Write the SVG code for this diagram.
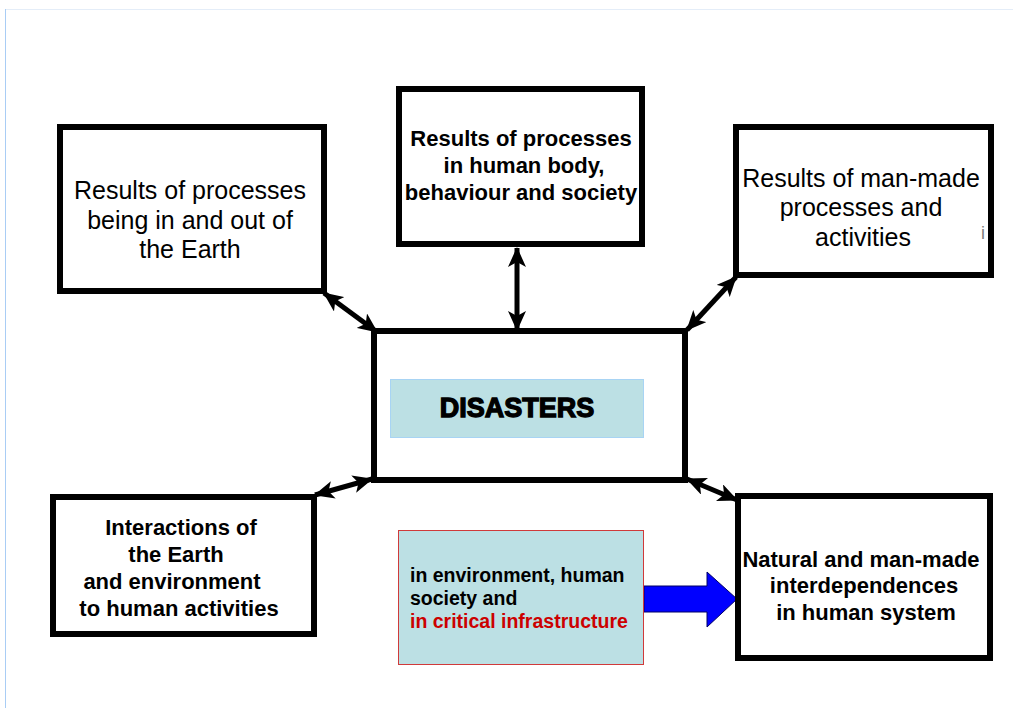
<svg xmlns="http://www.w3.org/2000/svg" width="1013" height="708" viewBox="0 0 1013 708">
  <style>
    .box { fill: #ffffff; stroke: #000000; stroke-width: 6; }
    .reg { font-family: "Liberation Sans", Arial, sans-serif; font-size: 25px; fill: #000000; text-anchor: middle; }
    .bold { font-family: "Liberation Sans", Arial, sans-serif; font-size: 22px; font-weight: bold; fill: #000000; text-anchor: middle; }
    .note { font-family: "Liberation Sans", Arial, sans-serif; font-size: 19.5px; font-weight: bold; }
    .link { stroke: #000000; stroke-width: 5; fill: none; marker-start: url(#head); marker-end: url(#head); }
  </style>
  <defs>
    <marker id="head" viewBox="0 0 20 18" refX="19" refY="9" markerWidth="20" markerHeight="18" markerUnits="userSpaceOnUse" orient="auto-start-reverse">
      <path d="M0,0 L20,9 L0,18 L5,9 Z" fill="#000000"/>
    </marker>
  </defs>

  <rect width="1013" height="708" fill="#ffffff"/>
  <!-- page frame -->
  <line x1="5" y1="9.5" x2="1013" y2="9.5" stroke="#e4edf8" stroke-width="1"/>
  <line x1="5.5" y1="9" x2="5.5" y2="708" stroke="#a9cdf5" stroke-width="1"/>

  <g id="connectors">
    <line class="link" x1="324" y1="293" x2="377" y2="332"/>
    <line class="link" x1="517" y1="248" x2="517" y2="330"/>
    <line class="link" x1="736" y1="277" x2="687" y2="330"/>
    <line class="link" x1="315" y1="495" x2="372" y2="479"/>
    <line class="link" x1="687" y1="479" x2="737" y2="500"/>
    <!-- block arrow into the interdependences box -->
    <path d="M644,586 L707,586 L707,572 L737,599 L707,627 L707,612 L644,612 Z" fill="#0000ff" stroke="#000066" stroke-width="1"/>
  </g>

  <g id="node-earth">
    <rect class="box" x="60" y="127" width="264" height="164"/>
    <text class="reg" x="190" y="199">Results of processes</text>
    <text class="reg" x="190" y="229">being in and out of</text>
    <text class="reg" x="190" y="258">the Earth</text>
  </g>

  <g id="node-human">
    <rect class="box" x="399" y="89" width="243" height="155"/>
    <text class="bold" x="521" y="146">Results of processes</text>
    <text class="bold" x="524" y="173">in human body,</text>
    <text class="bold" x="521" y="200">behaviour and society</text>
  </g>

  <g id="node-manmade">
    <rect class="box" x="736" y="127" width="255" height="148"/>
    <text class="reg" x="861" y="187">Results of man-made</text>
    <text class="reg" x="861" y="216">processes and</text>
    <text class="reg" x="863" y="246">activities</text>
    <text x="983" y="239" font-family="Liberation Sans, Arial, sans-serif" font-size="18" fill="#808080" text-anchor="middle">i</text>
  </g>

  <g id="node-disasters">
    <rect class="box" x="374" y="331" width="311" height="149"/>
    <rect x="390.5" y="379.5" width="253" height="58" fill="#bce0e4" stroke="#a8d4f4" stroke-width="1"/>
    <text x="517" y="417" font-family="Liberation Sans, Arial, sans-serif" font-size="27" font-weight="bold" fill="#000000" stroke="#000000" stroke-width="1.3" text-anchor="middle">DISASTERS</text>
  </g>

  <g id="node-interactions">
    <rect class="box" x="53" y="497" width="261" height="137"/>
    <text class="bold" x="181" y="535">Interactions of</text>
    <text class="bold" x="176" y="562">the Earth</text>
    <text class="bold" x="172" y="589">and environment</text>
    <text class="bold" x="179" y="616">to human activities</text>
  </g>

  <g id="node-infrastructure">
    <rect x="398.5" y="530.5" width="245" height="134" fill="#bce0e4" stroke="#d03a3a" stroke-width="1"/>
    <text class="note" x="410" y="582" fill="#000000">in environment, human</text>
    <text class="note" x="410" y="605" fill="#000000">society and</text>
    <text class="note" x="410" y="628" fill="#cc0000">in critical infrastructure</text>
  </g>

  <g id="node-interdependences">
    <rect class="box" x="738" y="496" width="252" height="162"/>
    <text class="bold" x="861" y="567">Natural and man-made</text>
    <text class="bold" x="864" y="593">interdependences</text>
    <text class="bold" x="866" y="620">in human system</text>
  </g>
</svg>
